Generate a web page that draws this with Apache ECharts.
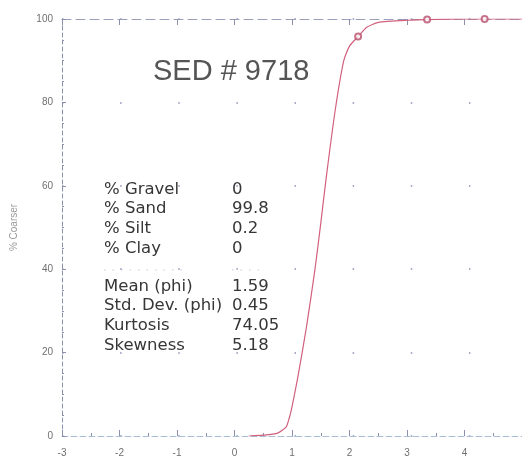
<!DOCTYPE html>
<html>
<head>
<meta charset="utf-8">
<script src="https://cdn.jsdelivr.net/npm/echarts@6/dist/echarts.min.js"></script>
<style>
  html, body { margin: 0; padding: 0; background: #fff; }
  #chart { width: 522px; height: 460px; }
</style>
</head>
<body>
<div id="chart"></div>
<script>
// Cumulative grain-size curve (phi scale) for one sediment sample
const phi = [0.25, 0.5, 0.75, 0.9, 0.95, 1.0, 1.1, 1.25, 1.4, 1.5, 1.6, 1.75, 1.9, 2.0, 2.15, 2.3, 2.5, 3.0, 3.5, 4.0, 4.5, 5.0];
const pctCoarser = [0, 0.2, 0.7, 2.2, 4.2, 7, 14, 26, 40, 51, 62.5, 78, 90, 93.5, 95.8, 98, 99.2, 99.7, 99.9, 100, 100, 100];

// Sieve points marked with open circles
const markPhi = [2.15, 3.35, 4.35];
const markPct = [95.8, 99.9, 100];

const xTicks = ['-3', '-2', '-1', '0', '1', '2', '3', '4', '5'];
const yTicks = ['0', '20', '40', '60', '80', '100'];

const sampleTitle = 'SED # 9718';
const statNames = ['% Gravel', '% Sand', '% Silt', '% Clay'];
const statValues = ['0', '99.8', '0.2', '0'];
const momentNames = ['Mean (phi)', 'Std. Dev. (phi)', 'Kurtosis', 'Skewness'];
const momentValues = ['1.59', '0.45', '74.05', '5.18'];

const chart = echarts.init(document.getElementById('chart'));

const axisGray = '#8a90ad';
const labelGray = '#6f6f6f';
const textColor = '#363636';
const blockFont = '"DejaVu Sans", sans-serif';

function textRows(names, values, top) {
  const out = [];
  names.forEach((n, i) => {
    out.push({ type: 'text', left: 104, top: top + i * 19.6,
      style: { text: n, font: '16.5px ' + blockFont, fill: textColor } });
    out.push({ type: 'text', left: 232, top: top + i * 19.6,
      style: { text: values[i], font: '16.5px ' + blockFont, fill: textColor } });
  });
  return out;
}

const graphics = [
  { type: 'text', left: 153, top: 57,
    style: { text: sampleTitle, font: '29px "Liberation Sans", Arial, sans-serif', fill: '#555' } },
  ...textRows(statNames, statValues, 181),
  ...textRows(momentNames, momentValues, 278),
  { type: 'line', shape: { x1: 104, y1: 270, x2: 182, y2: 270 },
    style: { stroke: '#c8c8d4', lineWidth: 1, lineDash: [1.5, 7] } },
  { type: 'line', shape: { x1: 232, y1: 270, x2: 262, y2: 270 },
    style: { stroke: '#c8c8d4', lineWidth: 1, lineDash: [1.5, 7] } }
];

chart.setOption({
  backgroundColor: '#fff',
  animation: false,
  grid: { left: 62, top: 19, width: 465, height: 417, containLabel: false },
  graphic: graphics,
  xAxis: [{
    type: 'value', min: -3, max: 5, interval: 1,
    axisLine: { show: true, onZero: false, lineStyle: { color: '#a9bfd6', width: 1, type: [6, 3] } },
    axisTick: { show: true, inside: true, length: 6, lineStyle: { color: axisGray } },
    minorTick: { show: true, splitNumber: 2, length: 3, lineStyle: { color: axisGray } },
    axisLabel: { margin: 12, color: labelGray, fontSize: 10, fontFamily: 'Liberation Sans, Arial',
      showMaxLabel: false, formatter: v => xTicks[Math.round(v) + 3] },
    splitLine: { show: false }
  }, {
    type: 'value', min: -3, max: 5, interval: 1, position: 'top',
    axisLine: { show: true, onZero: false, lineStyle: { color: '#9aa0bc', width: 1, type: [9, 5] } },
    axisTick: { show: true, inside: true, length: 6, lineStyle: { color: axisGray } },
    axisLabel: { show: false },
    splitLine: { show: false }
  }],
  yAxis: {
    type: 'value', min: 0, max: 100, interval: 20,
    name: '% Coarser', nameLocation: 'middle', nameGap: 43, nameRotate: 90,
    nameTextStyle: { color: '#9a9a9a', fontSize: 10, fontFamily: 'Liberation Sans, Arial' },
    axisLine: { show: true, onZero: false, lineStyle: { color: axisGray, width: 1, type: [4, 3] } },
    axisTick: { show: true, inside: true, length: 4, lineStyle: { color: axisGray } },
    minorTick: { show: true, splitNumber: 4, length: 2, lineStyle: { color: axisGray } },
    axisLabel: { margin: 9, color: labelGray, fontSize: 10, fontFamily: 'Liberation Sans, Arial',
      formatter: v => yTicks[Math.round(v / 20)] },
    splitLine: { show: true, lineStyle: { color: '#8c92b4', width: 1.5, type: [1.5, 56.63] } }
  },
  series: [{
    type: 'line',
    data: phi.map((p, i) => [p, pctCoarser[i]]),
    smooth: 0.2,
    symbol: 'none',
    lineStyle: { color: '#d2607e', width: 1.2 },
    z: 3
  }, {
    type: 'scatter',
    data: markPhi.map((p, i) => [p, markPct[i]]),
    symbol: 'emptyCircle',
    symbolSize: 6,
    clip: false,
    itemStyle: { color: '#b8506c', borderWidth: 1.2 },
    z: 5
  }]
});
</script>
</body>
</html>
